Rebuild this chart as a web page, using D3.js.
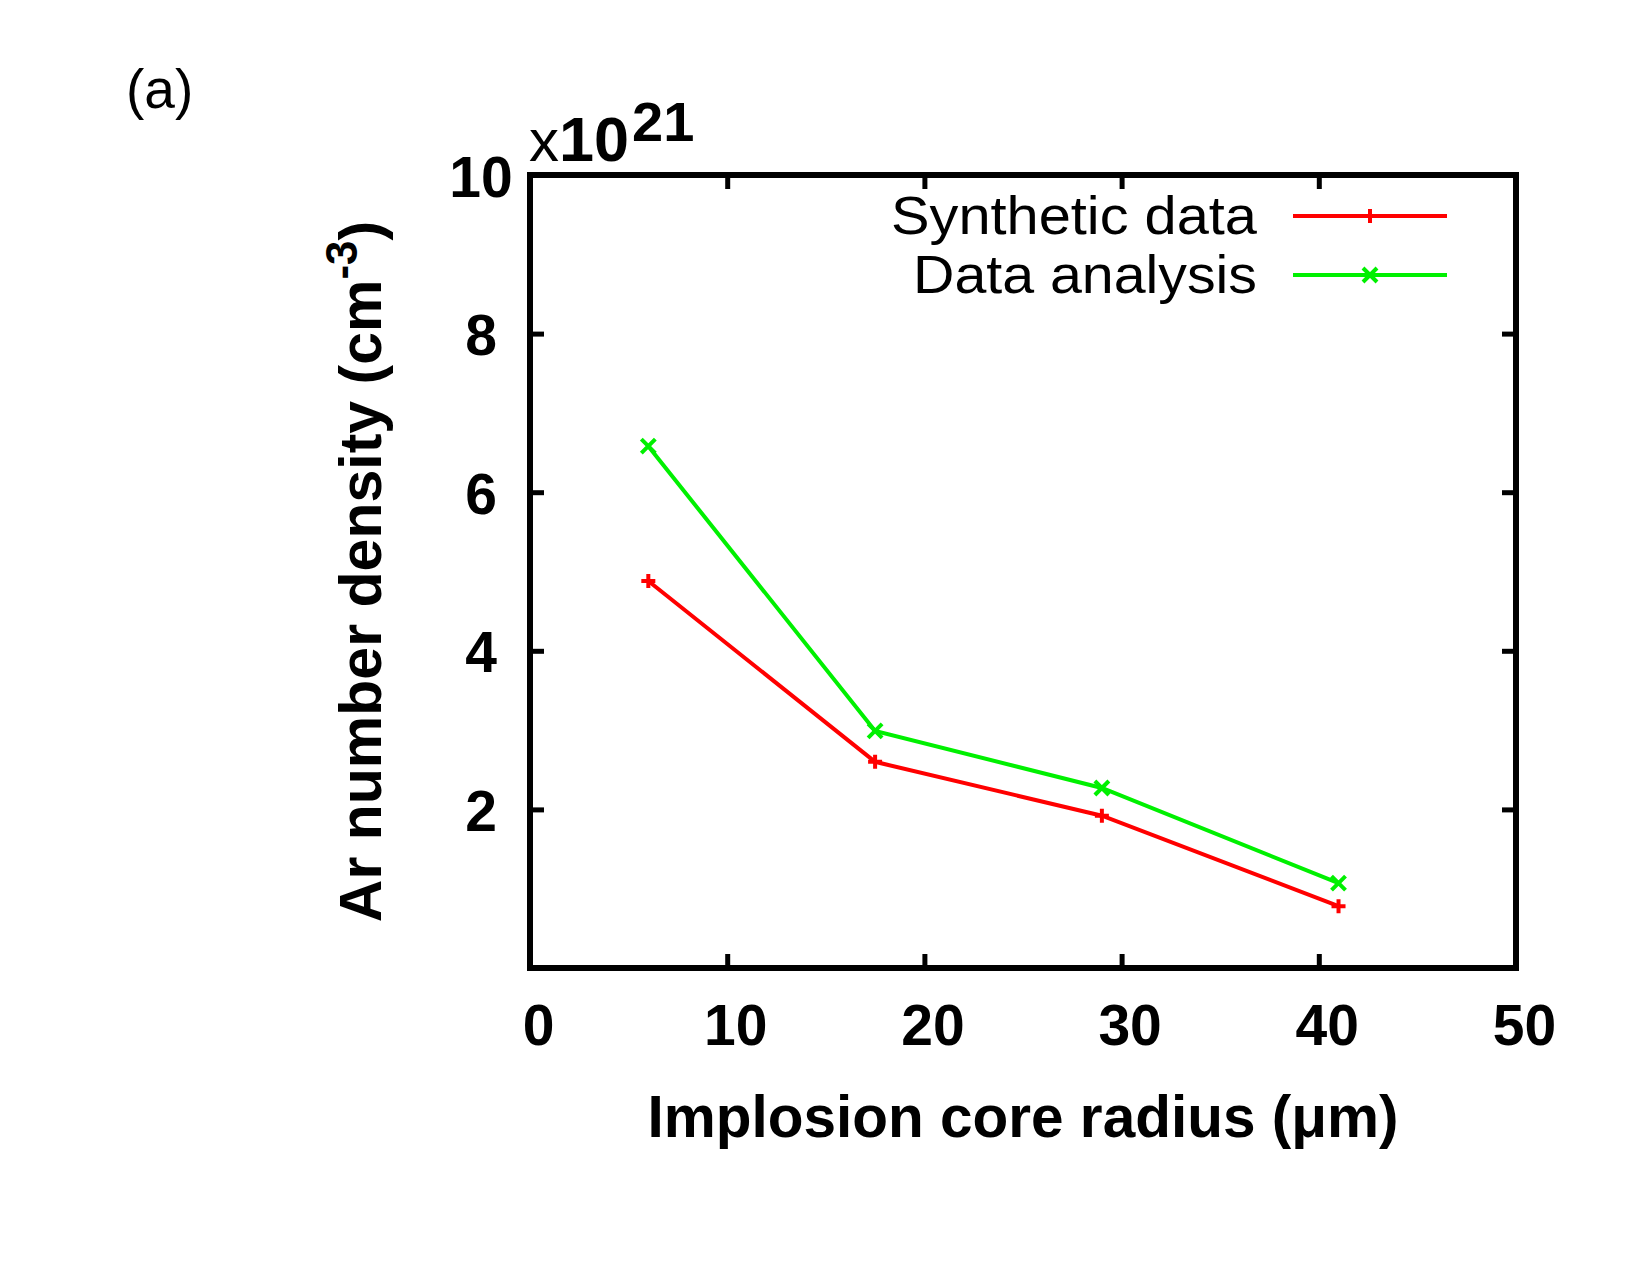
<!DOCTYPE html>
<html>
<head>
<meta charset="utf-8">
<script src="https://cdn.jsdelivr.net/npm/d3@7"></script>
<style>
  html, body { margin: 0; padding: 0; background: #fff; }
  svg { display: block; }
  text { font-family: "Liberation Sans", Arial, Helvetica, sans-serif; fill: #000; }
</style>
</head>
<body>
<svg id="chart" width="1650" height="1275"></svg>
<script>
// ---- data ----
const radius = [6, 17.5, 29, 41];                 // implosion core radius (µm)
const syntheticData = [4.88, 2.6, 1.92, 0.78];    // x10^21 cm^-3
const dataAnalysis = [6.58, 2.99, 2.27, 1.07];    // x10^21 cm^-3
const xTicks = [0, 10, 20, 30, 40, 50];
const yTicks = [0, 2, 4, 6, 8, 10];
const yTickLabels = ["", "2", "4", "6", "8", "10"];
const seriesNames = ["Synthetic data", "Data analysis"];
const seriesColors = ["#ff0000", "#00f000"];
const seriesMarkers = ["plus", "cross"];

// ---- layout ----
const m = { left: 530, top: 175, right: 1516, bottom: 968 };
const svg = d3.select("#chart");

const x = d3.scaleLinear().domain([0, 50]).range([m.left, m.right]);
const y = d3.scaleLinear().domain([0, 10]).range([m.bottom, m.top]);

const tickLen = 14;

// bottom axis ticks + labels
const gx = svg.append("g").attr("transform", `translate(0,${m.bottom})`)
  .call(d3.axisBottom(x).tickValues(xTicks).tickSize(-tickLen).tickSizeOuter(0).tickFormat(d3.format("d")));
gx.select(".domain").remove();
gx.selectAll("line").attr("stroke", "#000").attr("stroke-width", 5);
gx.selectAll("text").attr("y", 77).attr("dy", 0).attr("dx", 8)
  .attr("font-size", 57).attr("font-weight", "bold").attr("font-family", null);

// top axis ticks
const gxt = svg.append("g").attr("transform", `translate(0,${m.top})`)
  .call(d3.axisTop(x).tickValues(xTicks).tickSize(-tickLen).tickSizeOuter(0).tickFormat(""));
gxt.select(".domain").remove();
gxt.selectAll("line").attr("stroke", "#000").attr("stroke-width", 5);

// left axis ticks + labels
const gy = svg.append("g").attr("transform", `translate(${m.left},0)`)
  .call(d3.axisLeft(y).tickValues(yTicks).tickSize(-tickLen).tickSizeOuter(0)
    .tickFormat((d, i) => yTickLabels[i]));
gy.select(".domain").remove();
gy.selectAll("line").attr("stroke", "#000").attr("stroke-width", 5);
gy.selectAll("text").attr("x", -49).attr("dy", 21).attr("text-anchor", "middle")
  .attr("font-size", 57).attr("font-weight", "bold").attr("font-family", null);

// right axis ticks
const gyr = svg.append("g").attr("transform", `translate(${m.right},0)`)
  .call(d3.axisRight(y).tickValues(yTicks).tickSize(-tickLen).tickSizeOuter(0).tickFormat(""));
gyr.select(".domain").remove();
gyr.selectAll("line").attr("stroke", "#000").attr("stroke-width", 5);

// frame
svg.append("rect")
  .attr("x", x(0)).attr("y", y(10))
  .attr("width", x(50) - x(0)).attr("height", y(0) - y(10))
  .attr("fill", "none").attr("stroke", "#000").attr("stroke-width", 6);

// markers
function markerPath(type, cx, cy, s) {
  if (type === "plus") return `M${cx - s},${cy}H${cx + s}M${cx},${cy - s}V${cy + s}`;
  return `M${cx - s},${cy - s}L${cx + s},${cy + s}M${cx - s},${cy + s}L${cx + s},${cy - s}`;
}

const line = d3.line().x(d => x(d[0])).y(d => y(d[1]));
const seriesValues = [syntheticData, dataAnalysis];

seriesValues.forEach((vals, si) => {
  const pts = radius.map((r, i) => [r, vals[i]]);
  svg.append("path").attr("d", line(pts))
    .attr("fill", "none").attr("stroke", seriesColors[si]).attr("stroke-width", 4)
    .attr("stroke-linejoin", "miter");
  svg.append("g").selectAll("path").data(pts).join("path")
    .attr("d", d => markerPath(seriesMarkers[si], x(d[0]), y(d[1]), 7))
    .attr("stroke", seriesColors[si]).attr("stroke-width", 4).attr("fill", "none");
});

// legend
const legendY = [216, 275];
const legendTextLen = [366, 344];
seriesNames.forEach((name, i) => {
  svg.append("text").attr("x", 1257).attr("y", legendY[i] + 18)
    .attr("text-anchor", "end").attr("font-size", 54)
    .attr("textLength", legendTextLen[i]).attr("lengthAdjust", "spacingAndGlyphs")
    .text(name);
  svg.append("line").attr("x1", 1293).attr("x2", 1447)
    .attr("y1", legendY[i]).attr("y2", legendY[i])
    .attr("stroke", seriesColors[i]).attr("stroke-width", 4);
  svg.append("path").attr("d", markerPath(seriesMarkers[i], 1370, legendY[i], 7))
    .attr("stroke", seriesColors[i]).attr("stroke-width", 4).attr("fill", "none");
});

// exponent label
const expo = svg.append("text").attr("x", 529).attr("y", 161);
expo.append("tspan").attr("font-size", 60).text("x");
expo.append("tspan").attr("font-size", 63).attr("font-weight", "bold").text("10");
expo.append("tspan").attr("font-size", 56).attr("font-weight", "bold").attr("dy", -20).attr("dx", 3).text("21");

// axis titles
svg.append("text").attr("x", (m.left + m.right) / 2).attr("y", 1137)
  .attr("text-anchor", "middle").attr("font-size", 58.5).attr("font-weight", "bold")
  .text("Implosion core radius (\u03bcm)");

const yl = svg.append("text")
  .attr("transform", `translate(381,${(m.top + m.bottom) / 2}) rotate(-90)`)
  .attr("text-anchor", "middle").attr("font-size", 59).attr("font-weight", "bold");
yl.append("tspan").text("Ar number density (cm");
yl.append("tspan").attr("font-size", 44).attr("dy", -24).text("-3");
yl.append("tspan").attr("dy", 24).text(")");

// panel label
svg.append("text").attr("x", 126).attr("y", 108).attr("font-size", 55).text("(a)");
</script>
</body>
</html>
